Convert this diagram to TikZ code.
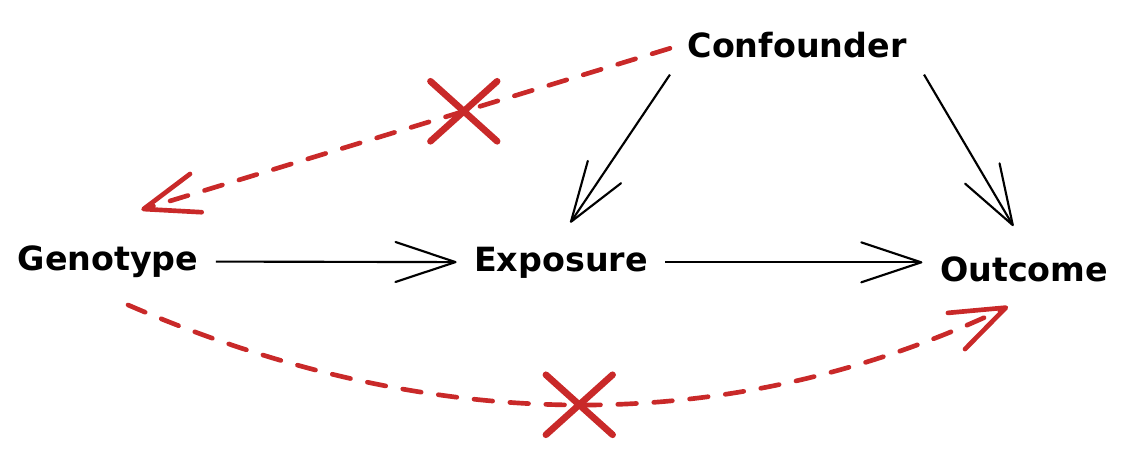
\documentclass[tikz,border=0pt]{standalone}
\usepackage{fontspec}
\setmainfont{DejaVu Sans}
\usepackage{tikz}
\usetikzlibrary{positioning,calc,shapes.misc,arrows.meta}
\definecolor{crossred}{rgb}{0.79, 0.16, 0.16}

\begin{document}
\begin{tikzpicture}[x=0.75pt,y=-0.75pt,
	var/.style={font=\fontsize{25}{29}\selectfont\bfseries, text height=18pt, text depth=5pt, inner xsep=13pt, inner ysep=8pt, anchor=base},
	cause/.style={black, line width=1.6pt, -{Straight Barb[length=45pt,width=30pt,round]}},
	blocked/.style={crossred, line width=3.5pt, line cap=round, dash pattern=on 14pt off 13pt, -{Straight Barb[length=41pt,width=30pt,round]}},
	crossmark/.style={cross out, draw=crossred, solid, line width=5pt, line cap=round, minimum width=45pt, minimum height=40pt, inner sep=0pt}]

	\useasboundingbox (0,0) rectangle (1131,454);

	\node[var] (C) at (797,57) {Confounder};
	
	\node[var] (G) at (108,270) {Genotype};
	
	\node[var] (E) at (561,271) {Exposure};
	
	\node[var] (O) at (1024,281) {Outcome};

	\draw[cause] (G) -- (E);
	\draw[cause] (E) -- (E -| O.west);
	\draw[cause] (C.south west) -- ([xshift=7pt,yshift=10pt]E.north);
	\draw[cause] (C.south east) -- ([xshift=-8pt,yshift=15pt]O.north);
	
	%\draw[blocked] (C) -- (G);
	\draw[blocked] (C.west) -- ([xshift=25pt,yshift=19pt]G.north) node[crossmark,pos=0.39] (X1) {};
	\draw[blocked] ([xshift=15pt,yshift=-13pt]G.south) .. controls +(307,133) and +(-277,131) .. ([xshift=-12pt,yshift=-6pt]O.south) node[crossmark,pos=0.5] (X2) {};
\end{tikzpicture}
\end{document}
